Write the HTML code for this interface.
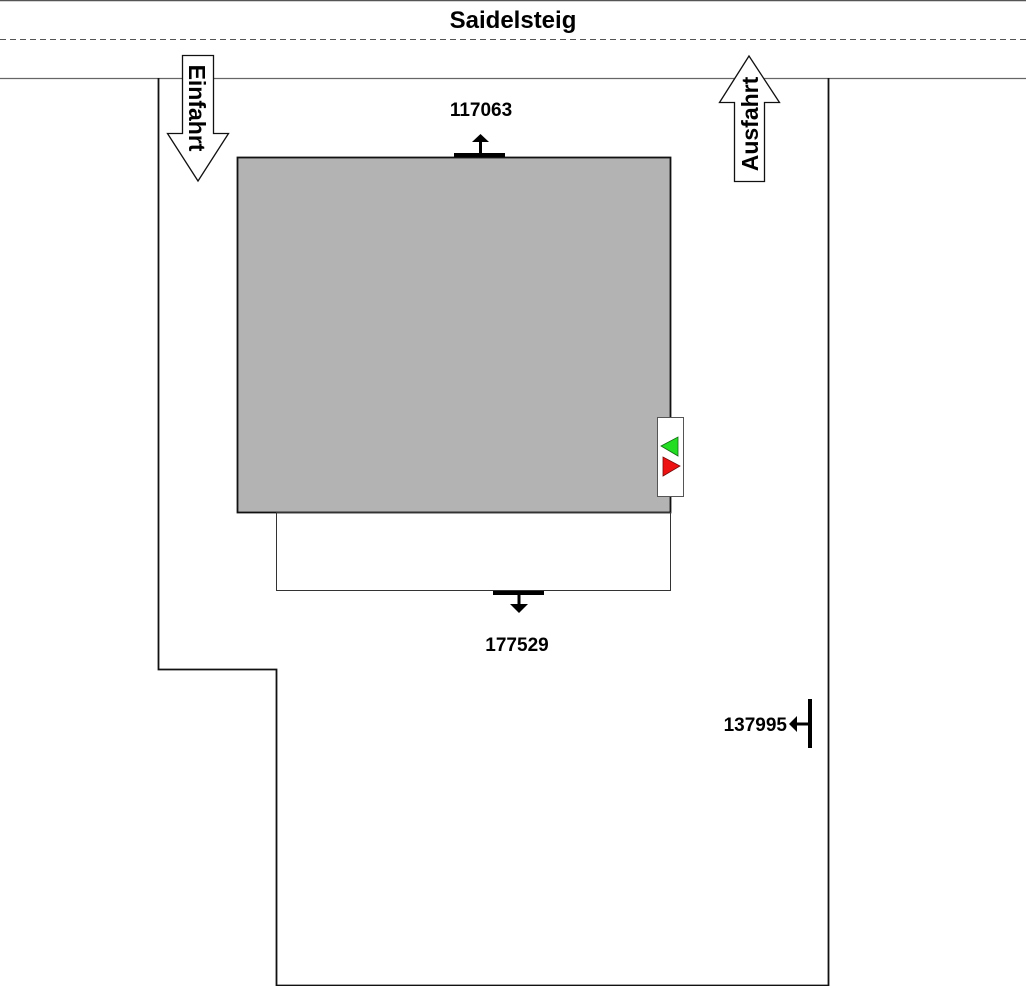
<!DOCTYPE html>
<html><head><meta charset="utf-8"><style>html,body{margin:0;padding:0;background:#fff}svg{display:block}text{font-family:"Liberation Sans",Arial,sans-serif;font-weight:bold}</style></head>
<body>
<svg width="1026" height="986" viewBox="0 0 1026 986" xmlns="http://www.w3.org/2000/svg">
<rect width="1026" height="986" fill="#fff"/>
<line x1="0" y1="0.5" x2="1026" y2="0.5" stroke="#555" stroke-width="1.5"/>
<line x1="0" y1="39.5" x2="1026" y2="39.5" stroke="#555" stroke-width="1" stroke-dasharray="6,4"/>
<line x1="0" y1="78.5" x2="1026" y2="78.5" stroke="#666" stroke-width="1.2"/>
<text x="513" y="28" font-size="24" text-anchor="middle">Saidelsteig</text>
<polyline points="158.5,78 158.5,669.5 276.5,669.5 276.5,985.5 828.5,985.5 828.5,78" fill="none" stroke="#111" stroke-width="1.8"/>
<rect x="237.5" y="157.5" width="433" height="355" fill="#b3b3b3" stroke="#111" stroke-width="1.8"/>
<rect x="276.5" y="512.5" width="394" height="78" fill="none" stroke="#333" stroke-width="1"/>
<rect x="657.5" y="417.5" width="26" height="79" fill="#fff" stroke="#555" stroke-width="1"/>
<polygon points="661,446 678,437 678,456" fill="#22dd22" stroke="#136b13" stroke-width="0.8"/>
<polygon points="663,457 663,476 680,466" fill="#ee1111" stroke="#7a0a0a" stroke-width="0.8"/>
<polygon points="182.5,55.5 213.5,55.5 213.5,133.5 228.5,133.5 198,181 167.5,133.5 182.5,133.5" fill="#fff" stroke="#111" stroke-width="1.3"/>
<text transform="translate(189,108) rotate(90)" font-size="23" text-anchor="middle">Einfahrt</text>
<polygon points="749,56 779.5,102.5 764.5,102.5 764.5,181.5 734.5,181.5 734.5,102.5 719.5,102.5" fill="#fff" stroke="#111" stroke-width="1.3"/>
<text transform="translate(758,124) rotate(-90)" font-size="23" text-anchor="middle">Ausfahrt</text>
<rect x="454" y="153" width="51" height="4" fill="#000"/>
<rect x="479" y="140" width="3" height="14" fill="#000"/>
<polygon points="480.5,134 472,142 489,142" fill="#000"/>
<text x="481" y="116" font-size="19" text-anchor="middle">117063</text>
<rect x="493" y="591" width="51" height="4" fill="#000"/>
<rect x="517.5" y="594" width="3" height="12" fill="#000"/>
<polygon points="519,613 510,604 528,604" fill="#000"/>
<text x="517" y="651" font-size="19" text-anchor="middle">177529</text>
<rect x="808" y="699" width="4" height="49" fill="#000"/>
<rect x="795" y="722.5" width="14" height="3" fill="#000"/>
<polygon points="789,724 797,716 797,732" fill="#000"/>
<text x="787" y="731" font-size="19" text-anchor="end">137995</text>
</svg>
</body></html>
